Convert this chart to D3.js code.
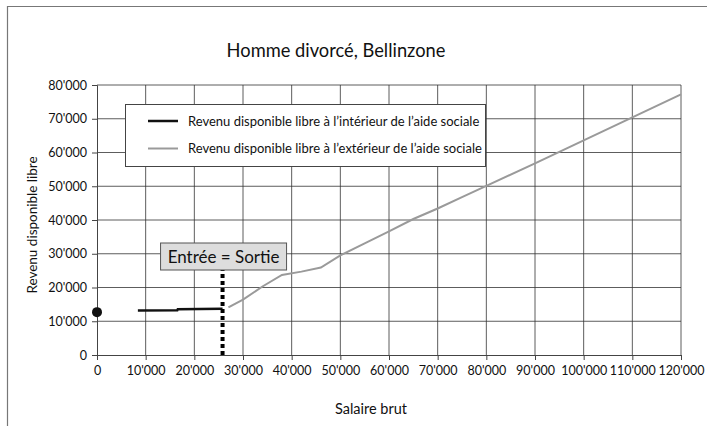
<!DOCTYPE html>
<html><head><meta charset="utf-8">
<script src="https://cdn.jsdelivr.net/npm/d3@7"></script>
<style>body{margin:0;background:#fff}svg{display:block}text{font-family:Lato,"Open Sans",sans-serif;fill:#111}</style>
</head><body><div id="c"></div>
<script>
const title = "Homme divorcé, Bellinzone";
const xLabel = "Salaire brut";
const yLabel = "Revenu disponible libre";
const xTicks = [0,10000,20000,30000,40000,50000,60000,70000,80000,90000,100000,110000,120000];
const yTicks = [0,10000,20000,30000,40000,50000,60000,70000,80000];
const seriesNames = ["Revenu disponible libre à l’intérieur de l’aide sociale","Revenu disponible libre à l’extérieur de l’aide sociale"];
const insideX = [8400,16500,16600,25800];
const insideY = [13150,13250,13550,13700];
const outsideX = [27000,30000,34000,38000,42000,46000,50000,55000,60000,65000,70000,75000,80000,90000,100000,110000,120000];
const outsideY = [14100,16400,20300,23700,24700,25900,29500,33100,36600,40300,43400,46800,50100,56800,63600,70400,77200];
const pointX = [0];
const pointY = [12700];
const thresholdX = [25800];
const annotation = "Entrée = Sortie";

const W=707,H=426;
const svg=d3.select("#c").append("svg").attr("width",W).attr("height",H);
const m={l:97,r:681,t:85,b:355};
const x=d3.scaleLinear().domain([0,120000]).range([m.l,m.r]);
const y=d3.scaleLinear().domain([0,80000]).range([m.b,m.t]);
const fmt=d=>d3.format(",")(d).replace(/,/g,"'");

// frame
svg.append("path").attr("d","M7.5,"+H+" V6.5 H"+W).attr("fill","none").attr("stroke","#777").attr("stroke-width",1.2);

// grid
svg.append("g").selectAll("line").data(xTicks.slice(1)).join("line")
 .attr("x1",d=>x(d)).attr("x2",d=>x(d)).attr("y1",m.t).attr("y2",m.b).attr("stroke","#333").attr("stroke-width",0.8);
svg.append("g").selectAll("line").data(yTicks.slice(1)).join("line")
 .attr("x1",m.l).attr("x2",m.r).attr("y1",d=>y(d)).attr("y2",d=>y(d)).attr("stroke","#333").attr("stroke-width",0.8);

// axes
const xa=svg.append("g").attr("transform",`translate(0,${m.b})`).call(d3.axisBottom(x).tickValues(xTicks).tickFormat(fmt).tickSizeOuter(0).tickSize(5).tickPadding(6));
const ya=svg.append("g").attr("transform",`translate(${m.l},0)`).call(d3.axisLeft(y).tickValues(yTicks).tickFormat(fmt).tickSizeOuter(0).tickSize(5).tickPadding(5));
[xa,ya].forEach(a=>{a.select(".domain").attr("stroke","#444");a.selectAll(".tick line").attr("stroke","#444");a.selectAll("text").style("font-size","12.5px").attr("fill","#111").style("font-family","Lato,'Open Sans',sans-serif");});

// titles
svg.append("text").attr("x",336).attr("y",57).attr("text-anchor","middle").style("font-size","18.3px").text(title);
svg.append("text").attr("x",371).attr("y",414).attr("text-anchor","middle").style("font-size","14.5px").text(xLabel);
svg.append("text").attr("transform","translate(37,225) rotate(-90)").attr("text-anchor","middle").style("font-size","13.5px").text(yLabel);

// lines
const line=d3.line().x(d=>x(d[0])).y(d=>y(d[1]));
svg.append("path").datum(outsideX.map((v,i)=>[v,outsideY[i]])).attr("d",line).attr("fill","none").attr("stroke","#9a9a9a").attr("stroke-width",2);
svg.append("path").datum(insideX.map((v,i)=>[v,insideY[i]])).attr("d",line).attr("fill","none").attr("stroke","#111").attr("stroke-width",2.5);

// point
svg.selectAll("circle.p").data(pointX).join("circle").attr("cx",d=>x(d)).attr("cy",(d,i)=>y(pointY[i])).attr("r",5).attr("fill","#111");

// threshold dotted line
svg.selectAll("line.t").data(thresholdX).join("line").attr("x1",d=>x(d)).attr("x2",d=>x(d)).attr("y1",m.b).attr("y2",270)
 .attr("stroke","#000").attr("stroke-width",4).attr("stroke-dasharray","4,3");

// annotation box
const bx=x(thresholdX[0]);
svg.append("rect").attr("x",bx-62).attr("y",243).attr("width",126).attr("height",27).attr("fill","#ddd").attr("stroke","#555").attr("stroke-width",1);
svg.append("text").attr("x",bx+1).attr("y",263).attr("text-anchor","middle").style("font-size","17px").text(annotation);

// legend
const lg=svg.append("g");
lg.append("rect").attr("x",125.5).attr("y",104.5).attr("width",360).attr("height",62).attr("fill","#fff").attr("stroke","#444").attr("stroke-width",1);
const colors=["#111","#9a9a9a"],widths=[2.5,2];
seriesNames.forEach((s,i)=>{
 const yy=121+i*27.5;
 lg.append("line").attr("x1",148).attr("x2",178).attr("y1",yy).attr("y2",yy).attr("stroke",colors[i]).attr("stroke-width",widths[i]);
 lg.append("text").attr("x",188).attr("y",yy+4.5).style("font-size","13px").text(s);
});
</script></body></html>
